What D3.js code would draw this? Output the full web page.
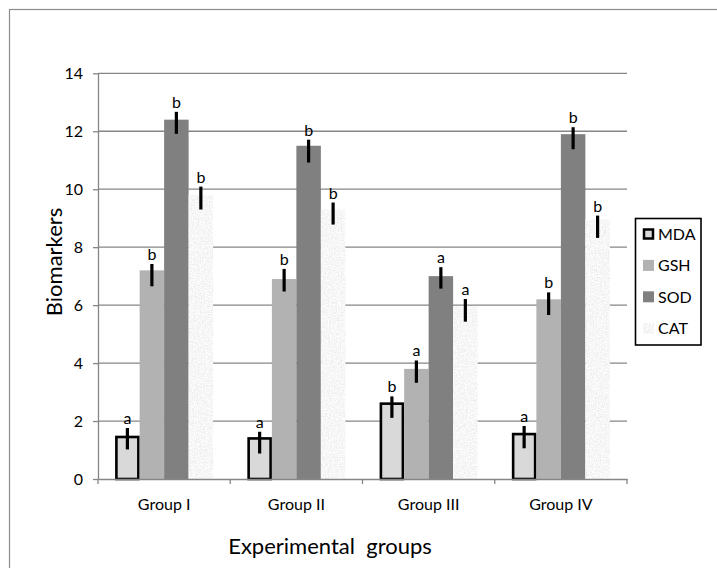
<!DOCTYPE html>
<html>
<head>
<meta charset="utf-8">
<script src="https://cdn.jsdelivr.net/npm/d3@7"></script>
<style>
    body { margin: 0; background: #fff; }
    text { font-family: Lato, "Open Sans", sans-serif; fill: #000; }
</style>
</head>
<body>
<svg id="chart" width="717" height="568"></svg>
<script>
// values
const groups = ["Group I", "Group II", "Group III", "Group IV"];
const seriesNames = ["MDA", "GSH", "SOD", "CAT"];
const mdaValues = [1.45, 1.4, 2.6, 1.55];
const gshValues = [7.2, 6.9, 3.8, 6.2];
const sodValues = [12.4, 11.5, 7.0, 11.9];
const catValues = [9.8, 9.3, 5.95, 8.95];
// error bars (up / down from the bar top)
const mdaErrUp = [0.31, 0.23, 0.25, 0.28];
const mdaErrDown = [0.43, 0.52, 0.49, 0.49];
const gshErrUp = [0.22, 0.35, 0.29, 0.24];
const gshErrDown = [0.55, 0.43, 0.48, 0.54];
const sodErrUp = [0.27, 0.21, 0.31, 0.24];
const sodErrDown = [0.49, 0.58, 0.43, 0.52];
const catErrUp = [0.29, 0.24, 0.26, 0.14];
const catErrDown = [0.50, 0.52, 0.52, 0.63];
// significance letters
const mdaLetters = ["a", "a", "b", "a"];
const gshLetters = ["b", "b", "a", "b"];
const sodLetters = ["b", "b", "a", "b"];
const catLetters = ["b", "b", "a", "b"];
const yTicks = [0, 2, 4, 6, 8, 10, 12, 14];

const allValues = [mdaValues, gshValues, sodValues, catValues];
const allErrUp = [mdaErrUp, gshErrUp, sodErrUp, catErrUp];
const allErrDown = [mdaErrDown, gshErrDown, sodErrDown, catErrDown];
const allLetters = [mdaLetters, gshLetters, sodLetters, catLetters];

const fills = { MDA: "#d9d9d9", GSH: "#b2b2b2", SOD: "#808080", CAT: "#eeeeee" };
const gridColor = "#868686";

const svg = d3.select("#chart");

const plotLeft = 98;
const plotRight = 627;
const plotTop = 73.3;
const plotBottom = 479;

const x = d3.scaleBand().domain(groups).range([plotLeft, plotRight]).paddingInner(0).paddingOuter(0);
const xSeries = d3.scaleBand().domain(seriesNames).range([0, x.bandwidth()]).paddingInner(0).paddingOuter(0.7);
const y = d3.scaleLinear().domain([0, 14]).range([plotBottom, plotTop]);

// speckled texture for CAT
const defs = svg.append("defs");
const speckle = defs.append("filter")
    .attr("id", "speckle")
    .attr("x", 0).attr("y", 0).attr("width", 1).attr("height", 1);
speckle.append("feTurbulence")
    .attr("type", "fractalNoise")
    .attr("baseFrequency", 0.75)
    .attr("numOctaves", 2)
    .attr("seed", 3)
    .attr("result", "noise");
speckle.append("feColorMatrix")
    .attr("in", "noise")
    .attr("type", "saturate")
    .attr("values", 0)
    .attr("result", "grey");
const transfer = speckle.append("feComponentTransfer").attr("in", "grey").attr("result", "light");
for (const ch of ["feFuncR", "feFuncG", "feFuncB"]) {
    transfer.append(ch).attr("type", "linear").attr("slope", 0.5).attr("intercept", 0.68);
}
transfer.append("feFuncA").attr("type", "linear").attr("slope", 0).attr("intercept", 1);
speckle.append("feComposite")
    .attr("in", "light")
    .attr("in2", "SourceGraphic")
    .attr("operator", "in");

// outer frame (cut by the picture edge on right and bottom)
svg.append("rect")
    .attr("x", 9.5)
    .attr("y", 9.5)
    .attr("width", 730)
    .attr("height", 580)
    .attr("fill", "#fff")
    .attr("stroke", "#8c8c8c")
    .attr("stroke-width", 1.2);

// GRIDLINES
svg.append("g")
    .selectAll("line")
    .data(yTicks.filter(d => d > 0))
    .join("line")
    .attr("x1", plotLeft)
    .attr("x2", plotRight)
    .attr("y1", d => y(d))
    .attr("y2", d => y(d))
    .style("stroke", gridColor)
    .style("stroke-width", 1.3);

// Y AXIS
const yAxis = svg.append("g")
    .attr("transform", "translate(" + plotLeft + ",0)")
    .call(d3.axisLeft(y).tickValues(yTicks).tickSize(5).tickSizeOuter(0).tickPadding(10));
yAxis.select(".domain").style("stroke", gridColor).style("stroke-width", 1.3);
yAxis.selectAll(".tick line").style("stroke", gridColor).style("stroke-width", 1.3);
yAxis.selectAll(".tick text")
    .style("font-family", "Lato, sans-serif")
    .style("font-size", "16px")
    .attr("fill", "#000");

// BARS
for (let s = 0; s < seriesNames.length; s++) {
    const name = seriesNames[s];
    const vals = allValues[s];
    const g = svg.append("g").attr("class", "series-" + name);
    const isMda = name === "MDA";
    g.selectAll("rect")
        .data(vals)
        .join("rect")
        .attr("x", (d, i) => x(groups[i]) + xSeries(name) + (isMda ? 1.25 : 0))
        .attr("y", d => y(d))
        .attr("width", xSeries.bandwidth() - (isMda ? 2.5 : 0))
        .attr("height", d => plotBottom - y(d))
        .attr("fill", fills[name])
        .attr("stroke", isMda ? "#000" : "none")
        .attr("stroke-width", isMda ? 2.6 : 0)
        .attr("filter", name === "CAT" ? "url(#speckle)" : null);
}

// X AXIS (drawn over the bar bottoms)
const xAxis = svg.append("g")
    .attr("transform", "translate(0," + plotBottom + ")")
    .call(d3.axisBottom(x).tickSize(0).tickSizeOuter(0).tickPadding(20));
xAxis.select(".domain").style("stroke", gridColor).style("stroke-width", 1.3);
xAxis.selectAll(".tick text")
    .style("font-family", "Lato, sans-serif")
    .style("font-size", "16px")
    .attr("fill", "#000");
// category boundary ticks
xAxis.selectAll(".boundary")
    .data(groups.map(gr => x(gr)).concat([plotRight]))
    .join("line")
    .attr("class", "boundary")
    .attr("x1", d => d)
    .attr("x2", d => d)
    .attr("y1", 0)
    .attr("y2", 5)
    .style("stroke", gridColor)
    .style("stroke-width", 1.3);

// ERROR BARS + LETTERS
for (let s = 0; s < seriesNames.length; s++) {
    const name = seriesNames[s];
    const cx = i => x(groups[i]) + xSeries(name) + xSeries.bandwidth() / 2;
    const g = svg.append("g").attr("class", "err-" + name);
    g.selectAll("line")
        .data(allValues[s])
        .join("line")
        .attr("x1", (d, i) => cx(i))
        .attr("x2", (d, i) => cx(i))
        .attr("y1", (d, i) => y(d + allErrUp[s][i]))
        .attr("y2", (d, i) => y(d - allErrDown[s][i]))
        .style("stroke", "#000")
        .style("stroke-width", 3.2);
    g.selectAll("text")
        .data(allValues[s])
        .join("text")
        .attr("x", (d, i) => cx(i))
        .attr("y", (d, i) => y(d + allErrUp[s][i]) - 4)
        .attr("text-anchor", "middle")
        .style("font-size", "16px")
        .text((d, i) => allLetters[s][i]);
}

// AXIS TITLES
svg.append("text")
    .attr("x", 330)
    .attr("y", 554)
    .attr("text-anchor", "middle")
    .style("font-size", "22px")
    .text("Experimental\u00a0 groups");

svg.append("text")
    .attr("transform", "translate(61.5,262) rotate(-90)")
    .attr("text-anchor", "middle")
    .style("font-size", "22px")
    .text("Biomarkers");

// LEGEND
const legend = svg.append("g").attr("transform", "translate(635,218)");
legend.append("rect")
    .attr("x", 0.5)
    .attr("y", 0.5)
    .attr("width", 65.5)
    .attr("height", 126.5)
    .attr("fill", "#fff")
    .attr("stroke", "#000")
    .attr("stroke-width", 1.6);
const entries = legend.selectAll(".entry")
    .data(seriesNames)
    .join("g")
    .attr("class", "entry")
    .attr("transform", (d, i) => "translate(0," + (16 + i * 31.4) + ")");
entries.append("rect")
    .attr("x", d => d === "MDA" ? 9 : 8)
    .attr("y", d => d === "MDA" ? -4.5 : -5.5)
    .attr("width", d => d === "MDA" ? 9 : 11)
    .attr("height", d => d === "MDA" ? 9 : 11)
    .attr("fill", d => fills[d])
    .attr("stroke", d => d === "MDA" ? "#000" : "none")
    .attr("stroke-width", 2.5)
    .attr("filter", d => d === "CAT" ? "url(#speckle)" : null);
entries.append("text")
    .attr("x", 23)
    .attr("y", 6)
    .style("font-size", "16px")
    .text(d => d);
</script>
</body>
</html>
